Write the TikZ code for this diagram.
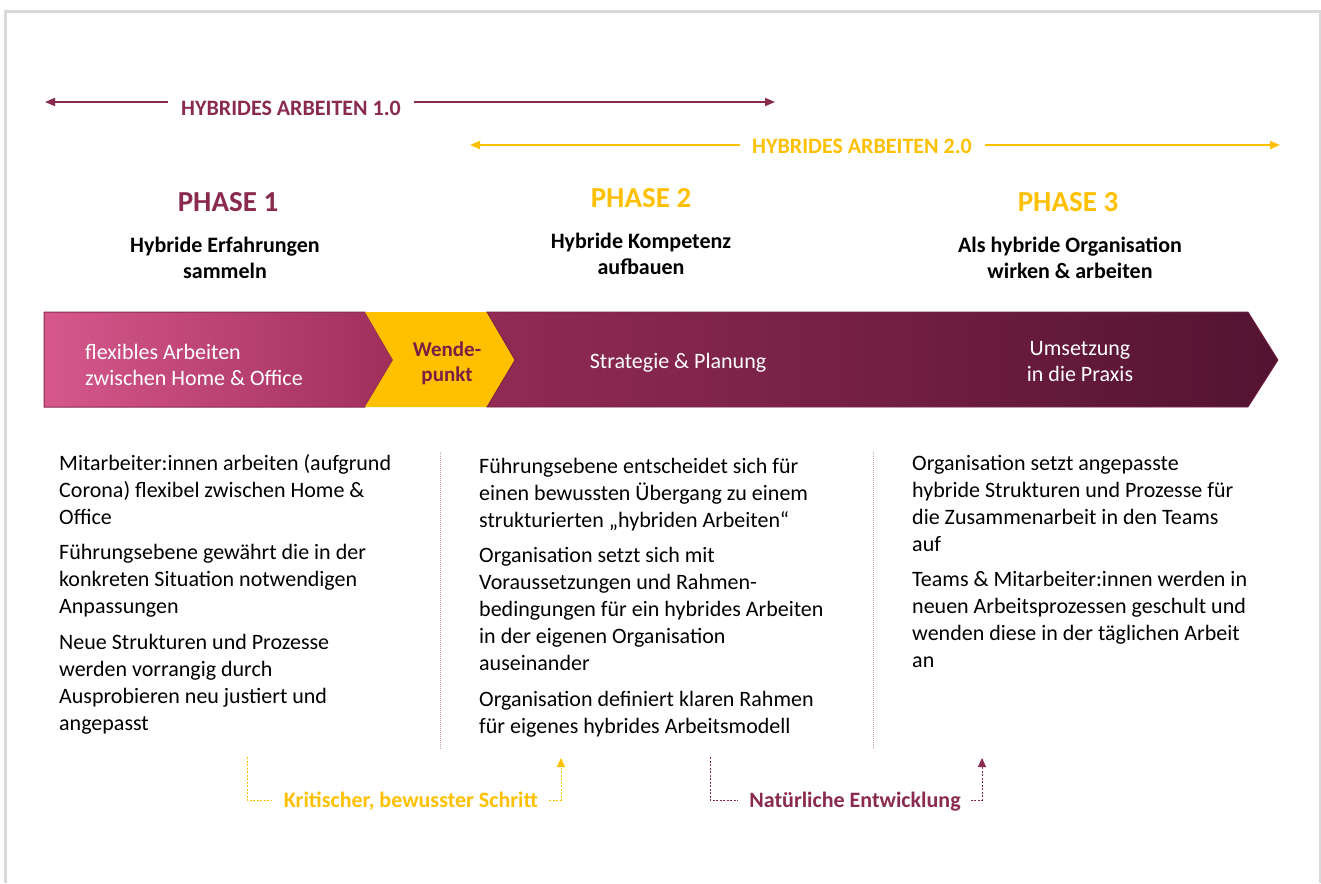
\documentclass[tikz,border=0pt]{standalone}
\usepackage{fontspec}
\setmainfont{Carlito}
\usetikzlibrary{arrows.meta}
\definecolor{maroon}{HTML}{8A2A4E}
\definecolor{maroondk}{HTML}{7A1F45}
\definecolor{gold}{HTML}{FFC000}
\definecolor{frame}{HTML}{D9D9D9}
\definecolor{pinkL}{HTML}{D6588C}
\definecolor{pinkR}{HTML}{A02F5B}
\definecolor{wineL}{HTML}{922B54}
\definecolor{wineR}{HTML}{521331}
\definecolor{sep}{HTML}{C7A0B0}
\tikzset{
  phase/.style={font=\fontsize{29}{34}\selectfont\bfseries, anchor=base, inner sep=0pt},
  subtitle/.style={font=\fontsize{22}{26}\selectfont\bfseries, align=center, anchor=base, inner sep=0pt},
  era/.style={font=\fontsize{22}{26}\selectfont\bfseries, anchor=base, inner sep=0pt},
  body/.style={font=\fontsize{22}{27}\selectfont, align=left, anchor=base west, inner sep=0pt},
  bannertext/.style={font=\fontsize{22}{26}\selectfont, text=white, inner sep=0pt},
  eraline/.style={line width=1.8pt, -{Triangle[length=10pt,width=8pt]}},
  bracket/.style={line width=1pt, dash pattern=on 2pt off 1.5pt},
  tipped/.style={-{Triangle[length=9pt,width=8pt]}},
  separator/.style={draw=sep, line width=1pt, dash pattern=on 1pt off 1pt}
}
\begin{document}
\begin{tikzpicture}[x=1pt,y=-1pt]
\useasboundingbox (0,0) rectangle (1321,883);
\fill[white] (0,0) rectangle (1321,883);
% outer frame
\draw[frame, line width=3pt] (5,883) -- (5,12) -- (1320,12) -- (1320,883);

% era arrows (multi-line nodes below are placed by the baseline of their last line)
\node[era, text=maroon] (h1) at (291,115) {HYBRIDES ARBEITEN 1.0};
\coordinate (h1l) at (45,102);
\coordinate (h1r) at (775,102);
\path ([xshift=-13pt]h1.west |- h1l) coordinate (h1a) ([xshift=13pt]h1.east |- h1r) coordinate (h1b);
\draw[eraline, maroon] (h1a) -- (h1l);
\draw[eraline, maroon] (h1b) -- (h1r);

\node[era, text=gold] (h2) at (862,153) {HYBRIDES ARBEITEN 2.0};
\coordinate (h2l) at (470,145);
\coordinate (h2r) at (1280,145);
\path ([xshift=-12pt]h2.west |- h2l) coordinate (h2a) ([xshift=13pt]h2.east |- h2r) coordinate (h2b);
\draw[eraline, gold] (h2a) -- (h2l);
\draw[eraline, gold] (h2b) -- (h2r);

% phase headings
\node[phase, text=maroon] (p1) at (228,211) {PHASE 1};
\node[phase, text=gold] (p2) at (641,207) {PHASE 2};
\node[phase, text=gold] (p3) at (1068,211) {PHASE 3};
\node[subtitle] (s1) at (225,278) {Hybride Erfahrungen\\sammeln};
\node[subtitle] (s2) at (641,274) {Hybride Kompetenz\\aufbauen};
\node[subtitle] (s3) at (1070,278) {Als hybride Organisation\\wirken \& arbeiten};

% banner
\shade[left color=pinkL, right color=pinkR, draw=maroon, line width=1pt]
  (44,312) -- (365,312) -- (393,360) -- (365,407) -- (44,407) -- cycle;
\fill[gold] (365,312) -- (487,312) -- (515,360) -- (487,407) -- (365,407) -- (393,360) -- cycle;
\shade[left color=wineL, right color=wineR, draw=wineL!80!black, line width=0.8pt]
  (487,312) -- (1248,312) -- (1278,360) -- (1248,407) -- (487,407) -- (515,360) -- cycle;

\node[bannertext, align=left, anchor=base west] (t1) at (85,385) {flexibles Arbeiten\\zwischen Home \& Office};
\node[font=\fontsize{21}{25}\selectfont\bfseries, text=maroondk, align=center, anchor=base, inner sep=0pt] (t2) at (447,381) {Wende-\\punkt};
\node[bannertext, anchor=base] (t3) at (678,368) {Strategie \& Planung};
\node[bannertext, align=center, anchor=base] (t4) at (1080,381) {Umsetzung\\in die Praxis};

% column texts
\node[body] (b11) at (59,524) {Mitarbeiter:innen arbeiten (aufgrund\\Corona) flexibel zwischen Home \&\\Office};
\node[body] (b12) at (59,613) {Führungsebene gewährt die in der\\konkreten Situation notwendigen\\Anpassungen};
\node[body] (b13) at (59,730) {Neue Strukturen und Prozesse\\werden vorrangig durch\\Ausprobieren neu justiert und\\angepasst};

\node[body] (b21) at (479,527) {Führungsebene entscheidet sich für\\einen bewussten Übergang zu einem\\strukturierten „hybriden Arbeiten“};
\node[body] (b22) at (479,670) {Organisation setzt sich mit\\Voraussetzungen und Rahmen-\\bedingungen für ein hybrides Arbeiten\\in der eigenen Organisation\\auseinander};
\node[body] (b23) at (479,733) {Organisation definiert klaren Rahmen\\für eigenes hybrides Arbeitsmodell};

\node[body] (b31) at (912,551) {Organisation setzt angepasste\\hybride Strukturen und Prozesse für\\die Zusammenarbeit in den Teams\\auf};
\node[body] (b32) at (912,667) {Teams \& Mitarbeiter:innen werden in\\neuen Arbeitsprozessen geschult und\\wenden diese in der täglichen Arbeit\\an};

% column separators
\draw[separator] (440,452) -- (440,750);
\draw[separator] (873,452) -- (873,750);

% transitions below
\node[era, text=gold] (k) at (411,807) {Kritischer, bewusster Schritt};
\coordinate (ktop) at (247,757);
\coordinate (kcorner) at (247,800);
\coordinate (ktip) at (561,758);
\path ([xshift=-12pt]k.west |- kcorner) coordinate (kw) ([xshift=11pt]k.east |- kcorner) coordinate (ke);
\draw[bracket, gold] (ktop) -- (kcorner) -- (kw);
\draw[bracket, gold, tipped] (ke) -- (ktip |- ke) -- (ktip);

\node[era, text=maroon] (n) at (855,807) {Natürliche Entwicklung};
\coordinate (ntop) at (710,757);
\coordinate (ncorner) at (710,800);
\coordinate (ntip) at (982,758);
\path ([xshift=-12pt]n.west |- ncorner) coordinate (nw) ([xshift=10pt]n.east |- ncorner) coordinate (ne);
\draw[bracket, maroon] (ntop) -- (ncorner) -- (nw);
\draw[bracket, maroon, tipped] (ne) -- (ntip |- ne) -- (ntip);
\end{tikzpicture}
\end{document}
